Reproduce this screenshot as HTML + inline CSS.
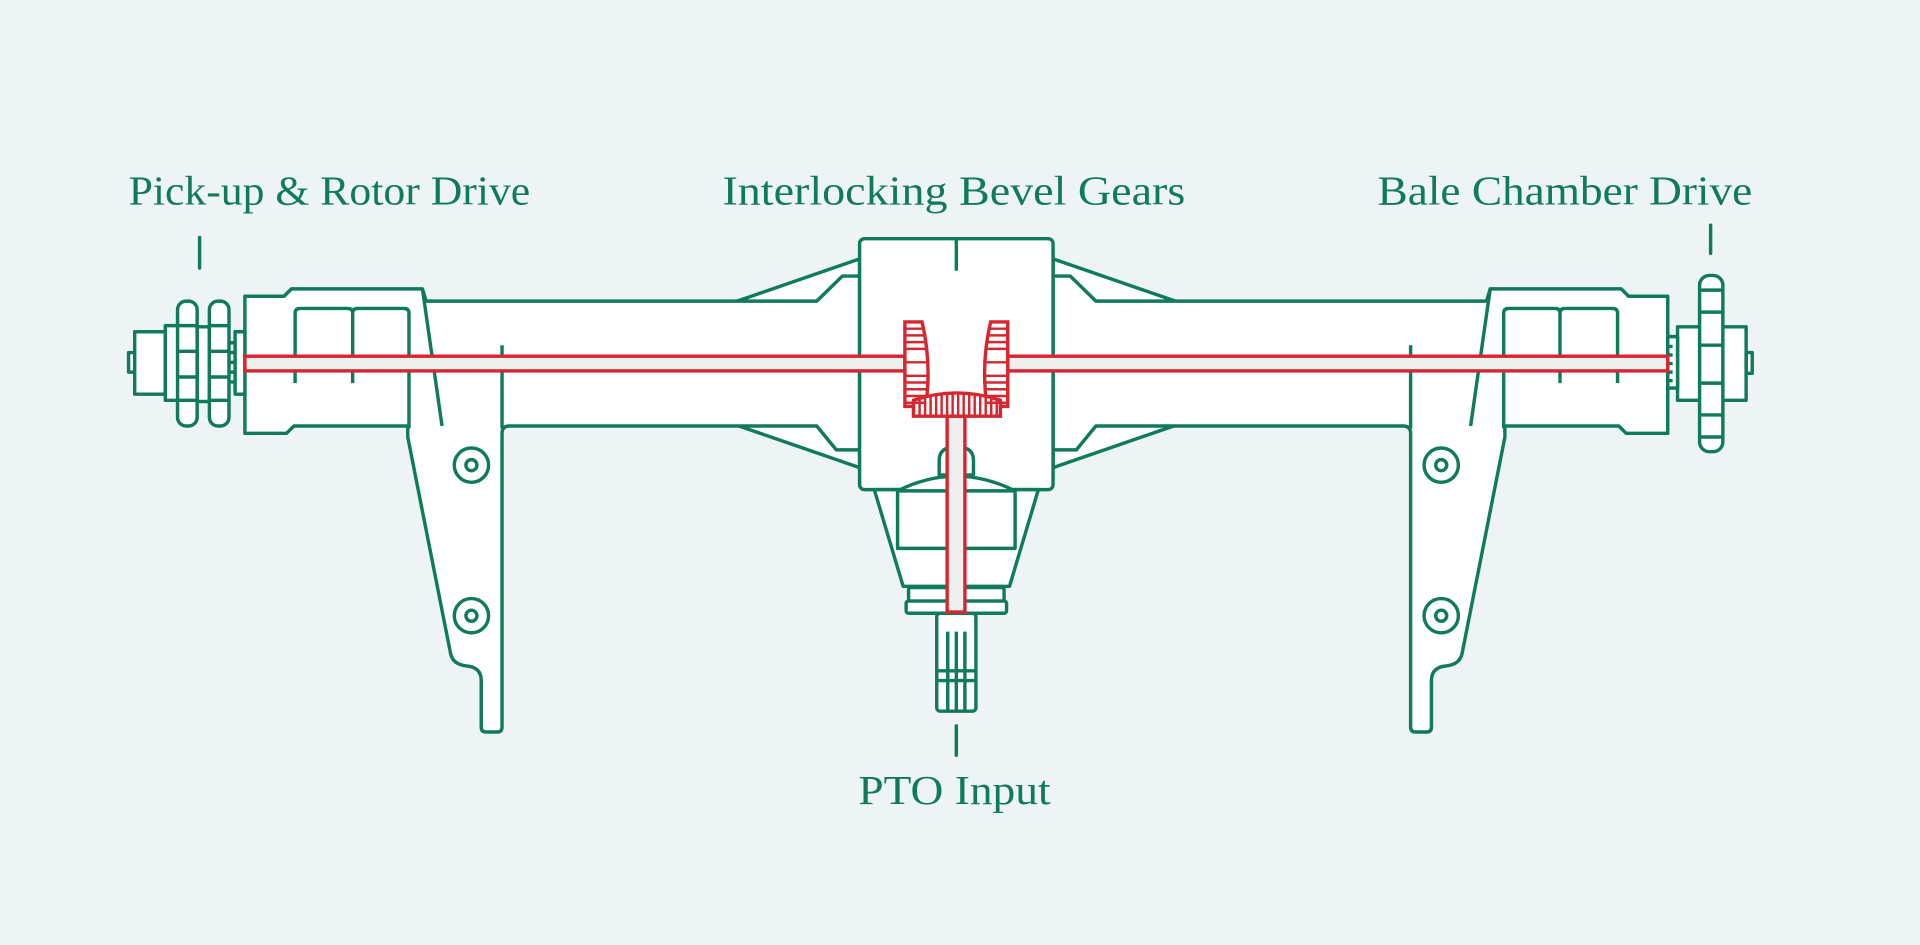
<!DOCTYPE html>
<html><head><meta charset="utf-8"><style>
html,body{margin:0;padding:0;background:#eef4f4;}
svg{display:block;}
text{font-family:"Liberation Serif",serif;fill:#0f7a5c;font-size:34px;}
</style></head><body>
<svg width="1920" height="945" viewBox="0 0 1568 772" preserveAspectRatio="none" xmlns="http://www.w3.org/2000/svg">
<rect width="1568" height="772" fill="#eef4f4"/>
<text x="105" y="167" textLength="328" lengthAdjust="spacingAndGlyphs">Pick-up &amp; Rotor Drive</text>
<text x="590" y="167" textLength="378" lengthAdjust="spacingAndGlyphs">Interlocking Bevel Gears</text>
<text x="1125" y="167" textLength="306" lengthAdjust="spacingAndGlyphs">Bale Chamber Drive</text>
<text x="701" y="657" textLength="157" lengthAdjust="spacingAndGlyphs">PTO Input</text>
<g stroke="#0f7a5c" stroke-width="2.8" fill="none" stroke-linecap="round" stroke-linejoin="round">
<line x1="163" y1="194" x2="163" y2="219"/>
<line x1="1397" y1="184" x2="1397" y2="207"/>
<line x1="781" y1="593" x2="781" y2="617"/>
</g>
<defs>
<g id="half" stroke="#0f7a5c" stroke-width="2.8" stroke-linejoin="round">
<polygon points="602,246 702,211.5 702,382 602,347.5" fill="#fff"/>
<path fill="#fff" d="M200,242 H232 L238,236 H345 L348,246 H667 L688,225.5 H702 V367.5 H683 L667,348 H416 Q410,348 410,354 V594 Q410,598 406,598 H397 Q393,598 393,594 V556 Q393,545 381,544 Q370,543 368,534 L333,357 V348 H240 L234,354 H200 Z"/>
<path fill="none" d="M241,313 V256 Q241,252 245,252 H284 Q288,252 288,256 V313 M288,256 Q288,252 292,252 H330 Q334,252 334,256 V350 M345,236 L361,348 M410,282 V350"/>
<circle cx="385" cy="380" r="14" fill="#fff"/><circle cx="385" cy="380" r="4.5" fill="#fff"/>
<circle cx="385" cy="503" r="14" fill="#fff"/><circle cx="385" cy="503" r="4.5" fill="#fff"/>
</g>
</defs>
<use href="#half"/>
<use href="#half" transform="translate(1562,0) scale(-1,1)"/>
<g stroke="#0f7a5c" stroke-width="2.8" stroke-linejoin="round" fill="#fff">
<rect x="105" y="288" width="6" height="16"/>
<rect x="110" y="271" width="25" height="51"/>
<rect x="135" y="266" width="11" height="61"/>
<rect x="161" y="267" width="10" height="61"/>
<rect x="145" y="246" width="16" height="102" rx="7"/>
<rect x="171" y="246" width="16" height="102" rx="7"/>
<path fill="none" d="M145,266 H161 M145,287 H161 M145,308 H161 M145,327 H161 M171,266 H187 M171,287 H187 M171,308 H187 M171,327 H187"/>
<rect x="192" y="271" width="8" height="51"/>
<path fill="none" d="M187,280 H192 M187,288 H192 M187,296 H192 M187,304 H192 M187,312 H192"/>
<rect x="1426" y="288" width="5" height="17"/>
<rect x="1370" y="267" width="56" height="60"/>
<rect x="1362" y="275" width="8" height="42"/>
<path fill="none" d="M1362,283 H1366 M1362,290 H1366 M1362,297 H1366 M1362,304 H1366 M1362,311 H1366"/>
<rect x="1388" y="225" width="19" height="144" rx="8"/>
<path fill="none" d="M1388,237 H1407 M1388,255 H1407 M1388,282 H1407 M1388,313 H1407 M1388,339 H1407 M1388,357 H1407"/>
<rect x="702" y="195" width="158" height="205" rx="4"/>
<path d="M714,400 L737.6,479 H824.4 L848,400 Z"/>
<path fill="none" d="M733,400 V448 H829 V400"/>
<path d="M767,388 V376 Q767,365 781,365 Q795,365 795,376 V388 Z"/>
<path d="M733,401 Q781,377 829,401 Z"/>
<rect x="742" y="480" width="78" height="11" rx="1.5"/>
<rect x="740" y="491" width="82" height="10" rx="2"/>
<rect x="765" y="501" width="32" height="80" rx="3"/>
<path fill="none" d="M765,548 H797 M765,556 H797 M774,516 V580 M781,516 V580 M788,516 V580"/>
<line x1="781" y1="196" x2="781" y2="220" stroke-linecap="round"/>
</g>
<g stroke="#d6262f" stroke-width="2.8">
<rect x="200" y="291" width="539" height="12" fill="#eef0f0"/>
<rect x="823" y="291" width="539" height="12" fill="#eef0f0"/>
<rect x="773.5" y="340" width="14.5" height="160" fill="#eef0f0"/>
<path fill="#fff" d="M739,263 H753 Q761,297 756,332 H739 Z"/>
<path fill="#fff" d="M823,263 H809 Q801,297 806,332 H823 Z"/>
<path fill="#fff" d="M746,340 V327 Q781,315 817,327 V340 Z"/>
</g>
<g stroke="#d6262f" stroke-width="2" fill="none">
<path d="M739,268.5 H754 M739,274 H755.5 M739,279.5 H756.5 M739,285 H757 M739,296 H757.5 M739,307 H757 M739,312.5 H757 M739,318 H756.5 M739,323.5 H756 M739,329 H756"/>
<path d="M823,268.5 H808 M823,274 H806.5 M823,279.5 H805.5 M823,285 H805 M823,296 H804.5 M823,307 H805 M823,312.5 H805 M823,318 H805.5 M823,323.5 H806 M823,329 H806"/>
<path d="M751,326 V340 M755.5,324 V340 M760,323 V340 M764.5,322 V340 M769,321 V340 M773.5,321 V340 M778,320 V340 M782.5,320 V340 M787,320 V340 M791.5,321 V340 M796,321 V340 M800.5,322 V340 M805,323 V340 M809.5,324 V340 M814,326 V340"/>
</g>
</svg>
</body></html>
